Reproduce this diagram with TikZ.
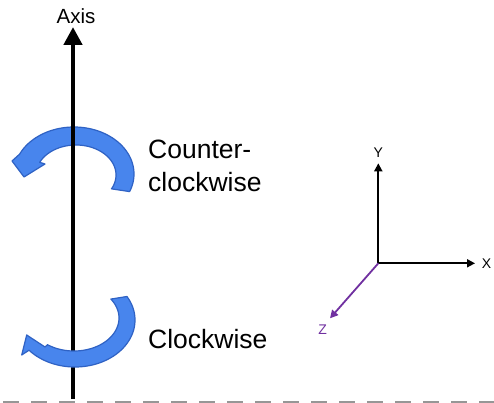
\documentclass[tikz,border=0pt]{standalone}
\usepackage{fontspec}
\setmainfont{Liberation Sans}
\usetikzlibrary{arrows.meta}
\definecolor{arrowblue}{RGB}{72,133,237}
\definecolor{arrowedge}{RGB}{47,98,196}
\definecolor{zpurple}{RGB}{112,48,160}
\definecolor{dashgrey}{RGB}{150,150,150}
\begin{document}
\begin{tikzpicture}[x=1pt,y=-1pt,
  turnarrow/.style={fill=arrowblue,draw=arrowedge,line width=1.2pt,line join=round},
  mainaxis/.style={line width=4.5pt,-{Triangle[length=18pt,width=18pt]}},
  coordaxis/.style={line width=1.8pt,-{Triangle[length=8pt,width=8pt]}},
  biglabel/.style={font=\fontsize{26.5}{32}\selectfont,inner sep=0pt,anchor=base west},
  axislabel/.style={font=\fontsize{20.5}{24}\selectfont,inner sep=0pt,anchor=base},
  smalllabel/.style={font=\fontsize{14}{16}\selectfont,inner sep=0pt}]
\useasboundingbox (0,0) rectangle (494,403);

% rotation arrow behind the axis (counter-clockwise)
\path[turnarrow]
  plot[domain=22:-155,samples=90] ({74+60*cos(\x)},{174+47*sin(\x)})
  -- (12,161) -- (24,177) -- (45,164)
  -- plot[domain=-155:27.5,samples=90] ({76+40*cos(\x)},{175+30*sin(\x)})
  -- cycle;

% the rotation axis
\coordinate (axisbase) at (73,399);
\coordinate (axistip) at (73,27);
\draw[mainaxis] (axisbase) -- (axistip);
\node[axislabel] (axislbl) at (76,23.3) {Axis};

% rotation arrow in front of the axis (clockwise)
\path[turnarrow]
  plot[domain=-30:140,samples=90] ({75+60*cos(\x)},{320+47*sin(\x)})
  -- (21.7,355) -- (26.7,335) -- (45,347)
  -- plot[domain=126:-35,samples=90] ({74+45*cos(\x)},{318+33*sin(\x)})
  -- cycle;

% labels of the two senses of rotation
\node[biglabel] (ccw1) at (148,158.3) {Counter-};
\node[biglabel] (ccw2) at (148,191.7) {clockwise};
\node[biglabel] (cw) at (148,348.3) {Clockwise};

% coordinate frame
\coordinate (orig) at (378.3,263.3);
\coordinate (ytip) at (378.3,163.3);
\coordinate (xtip) at (475,263.3);
\coordinate (ztip) at (330,318.3);
\draw[coordaxis] (orig) -- (ytip);
\draw[coordaxis] (orig) -- (xtip);
\draw[coordaxis,zpurple] (orig) -- (ztip);
\node[smalllabel] (ylbl) at (378.3,153) {Y};
\node[smalllabel] (xlbl) at (486.5,263.5) {X};
\node[smalllabel,text=zpurple] (zlbl) at (322.7,329.5) {Z};

% dashed ground line
\coordinate (dashL) at (3,402);
\coordinate (dashR) at (494,402);
\draw[dashgrey,line width=1.2pt,dash pattern=on 16pt off 12pt] (dashL) -- (dashR);
\end{tikzpicture}
\end{document}
